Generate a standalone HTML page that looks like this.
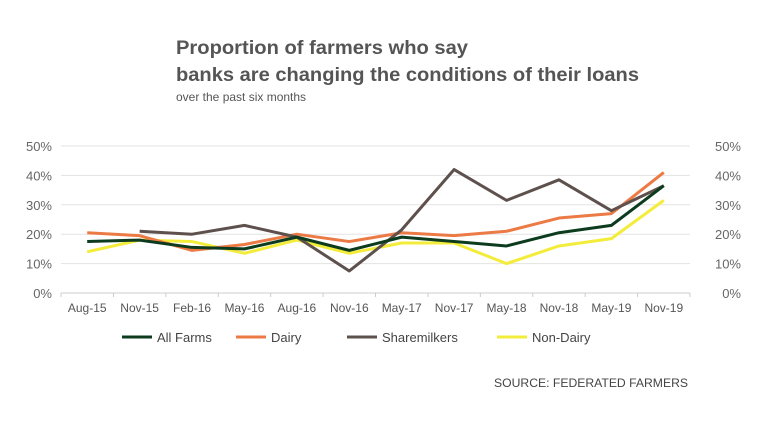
<!DOCTYPE html>
<html><head><meta charset="utf-8"><style>
body{margin:0;background:#fff;width:760px;height:428px;overflow:hidden;font-family:"Liberation Sans",sans-serif}
</style></head><body>
<svg width="760" height="428">
<text x="176" y="54" font-size="19" font-weight="bold" fill="#555" textLength="292" lengthAdjust="spacingAndGlyphs">Proportion of farmers who say</text>
<text x="176" y="81" font-size="19" font-weight="bold" fill="#555" textLength="463" lengthAdjust="spacingAndGlyphs">banks are changing the conditions of their loans</text>
<text x="176" y="101" font-size="12" fill="#555">over the past six months</text>
<g id="grid"></g><g id="lines"></g><g id="legend"></g>
<text x="688" y="387" font-size="12" fill="#444" text-anchor="end" textLength="194" lengthAdjust="spacingAndGlyphs">SOURCE: FEDERATED FARMERS</text>
</svg>
<script>
const categories=["Aug-15","Nov-15","Feb-16","May-16","Aug-16","Nov-16","May-17","Nov-17","May-18","Nov-18","May-19","Nov-19"];
const allFarms=[17.5,18,15.5,15,19,14.5,19,17.5,16,20.5,23,36.5];
const dairy=[20.5,19.5,14.5,16.5,20,17.5,20.5,19.5,21,25.5,27,41];
const sharemilkers=[null,21,20,23,19,7.5,21.5,42,31.5,38.5,28,36.5];
const nonDairy=[14,18,17.5,13.5,18,13.5,17,17,10,16,18.5,31.5];
const yTicks=[0,10,20,30,40,50];
const seriesNames=["All Farms","Dairy","Sharemilkers","Non-Dairy"];
const NS="http://www.w3.org/2000/svg";
const x0=61,x1=690,y0=293,y1=146;
const step=(x1-x0)/categories.length;
const xs=i=>x0+step*(i+0.5);
const ys=v=>y0-(v/50)*(y0-y1);
function mk(t,a,p){const e=document.createElementNS(NS,t);for(const k in a)e.setAttribute(k,a[k]);p.appendChild(e);return e;}
const grid=document.getElementById('grid');
yTicks.forEach(v=>{
 const l=mk('line',{x1:x0,x2:x1,y1:ys(v),y2:ys(v),stroke:v===0?'#ccc':'#e3e3e3','stroke-width':1},grid);
 
 
 const t=mk('text',{x:52,y:ys(v)+5,'font-size':13,fill:'#666','text-anchor':'end'},grid);t.textContent=v+'%';
 
 
 const t2=mk('text',{x:741,y:ys(v)+5,'font-size':13,fill:'#666','text-anchor':'end'},grid);t2.textContent=v+'%';
 
 
});
for(let i=0;i<=categories.length;i++){const tk=mk('line',{x1:x0+step*i,x2:x0+step*i,y1:y0,y2:y0+4,stroke:'#ccc'},grid);
 
 }
categories.forEach((c,i)=>{const t=mk('text',{x:xs(i),y:312,'font-size':12,fill:'#555','text-anchor':'middle'},grid);t.textContent=c;
 
 });
const data=[allFarms,dairy,sharemilkers,nonDairy];
const colors=["#0d3b1e","#ec7a45","#5e514d","#f4ec3a"];
const order=[3,1,2,0];
const lines=document.getElementById('lines');
order.forEach(k=>{
 let d='';data[k].forEach((v,i)=>{if(v==null)return;d+=(d?'L':'M')+xs(i)+','+ys(v);});
 const p=mk('path',{d:d,fill:'none',stroke:colors[k],'stroke-width':3,'stroke-linejoin':'round'},lines);
 
 
});
const leg=document.getElementById('legend');
const lx=[122,236,347,497];
seriesNames.forEach((n,k)=>{
 const g=mk('g',{},leg);
 
 
 mk('line',{x1:lx[k],x2:lx[k]+30,y1:337,y2:337,stroke:colors[k],'stroke-width':3},g);
 const t=mk('text',{x:lx[k]+35,y:342,'font-size':13,fill:'#444'},g);t.textContent=n;
});
</script>
</body></html>
